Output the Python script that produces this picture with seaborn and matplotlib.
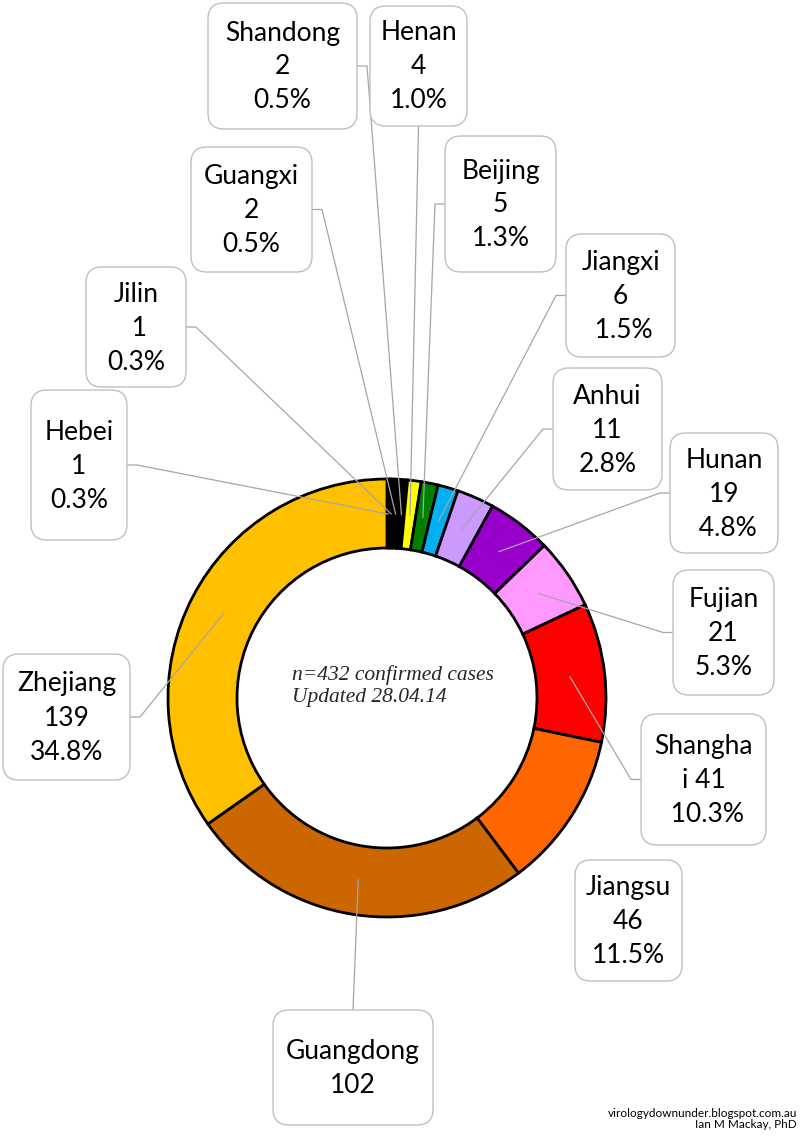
import numpy as np
import matplotlib
matplotlib.use('Agg')
import matplotlib.pyplot as plt
import seaborn as sns
from matplotlib.patches import FancyBboxPatch

# Dữ liệu: số ca theo tỉnh (thứ tự theo chiều kim đồng hồ từ đỉnh)
provinces = ['Hebei', 'Jilin', 'Guangxi', 'Shandong', 'Henan', 'Beijing', 'Jiangxi',
             'Anhui', 'Hunan', 'Fujian', 'Shanghai', 'Jiangsu', 'Guangdong', 'Zhejiang']
cases = [1, 1, 2, 2, 4, 5, 6, 11, 19, 21, 41, 46, 102, 139]
colors = ['#000000', '#000000', '#000000', '#000000', '#FFFF00', '#008000', '#00B0F0',
          '#CC99FF', '#9900CC', '#FF99FF', '#FF0000', '#FF6600', '#CC6600', '#FFC000']
label_texts = ['Hebei\n1\n0.3%', 'Jilin\n 1\n0.3%', 'Guangxi\n2\n0.5%', 'Shandong\n2\n0.5%',
               'Henan\n4\n1.0%', 'Beijing\n5\n1.3%', 'Jiangxi\n6\n 1.5%', 'Anhui\n11\n2.8%',
               'Hunan\n19\n 4.8%', 'Fujian\n21\n5.3%', 'Shangha\ni 41\n 10.3%',
               'Jiangsu\n46\n11.5%', 'Guangdong\n102', 'Zhejiang\n139\n34.8%']
center_note = 'n=432 confirmed cases\nUpdated 28.04.14'
credit = 'virologydownunder.blogspot.com.au\nIan M Mackay, PhD'

# Bố cục (toạ độ pixel, gốc ở góc trên trái)
W, H = 800, 1137
CX, CY, R_OUT, R_IN = 387, 698, 219, 150
boxes = {  # x0, y0, x1, y1
    'Hebei': (31, 390, 127, 540), 'Jilin': (86, 267, 186, 387),
    'Guangxi': (191, 147, 312, 272), 'Shandong': (208, 3, 357, 129),
    'Henan': (370, 6, 467, 126), 'Beijing': (445, 136, 556, 272),
    'Jiangxi': (566, 234, 675, 357), 'Anhui': (553, 368, 662, 490),
    'Hunan': (670, 433, 778, 553), 'Fujian': (673, 570, 774, 695),
    'Shanghai': (641, 714, 766, 845), 'Jiangsu': (575, 860, 682, 981),
    'Guangdong': (273, 1010, 433, 1125), 'Zhejiang': (3, 654, 130, 780),
}
# cạnh nối dây dẫn: 'r' phải, 'l' trái, 't' trên, 'b' dưới, None không có
leader_side = {'Hebei': 'r', 'Jilin': 'r', 'Guangxi': 'r', 'Shandong': 'r', 'Henan': 'b',
               'Beijing': 'l', 'Jiangxi': 'l', 'Anhui': 'l', 'Hunan': 'l', 'Fujian': 'l',
               'Shanghai': 'l', 'Jiangsu': None, 'Guangdong': 't', 'Zhejiang': 'r'}


def fy(y):
    return H - y


def main():
    sns.set_theme(style='white')
    plt.rcParams['font.family'] = ['Lato', 'DejaVu Sans']

    fig = plt.figure(figsize=(W / 100, H / 100), dpi=100)
    ax = fig.add_axes([0, 0, 1, 1])

    wedges, _ = ax.pie(cases, colors=colors, startangle=90, counterclock=False,
                       center=(CX, fy(CY)), radius=R_OUT,
                       wedgeprops=dict(width=R_OUT - R_IN, edgecolor='black', linewidth=2.0))

    total = sum(cases)
    for i, name in enumerate(provinces):
        x0, y0, x1, y1 = boxes[name]
        box = FancyBboxPatch((x0, fy(y1)), x1 - x0, y1 - y0,
                             boxstyle='round,pad=0,rounding_size=16',
                             facecolor='white', edgecolor='#BFBFBF', linewidth=1.0, zorder=3)
        ax.add_patch(box)
        ax.text((x0 + x1) / 2, fy((y0 + y1) / 2 + 1), label_texts[i], ha='center', va='center',
                fontsize=19, linespacing=1.45, color='black', zorder=4)

        side = leader_side[name]
        if side is None:
            continue
        # điểm neo trong lát bánh: góc giữa, bán kính 0.84
        mid = (sum(cases[:i]) + cases[i] / 2) / total * 360
        r = 0.84 * R_OUT
        ax_x = CX + r * np.sin(np.radians(mid))
        ax_y = CY - r * np.cos(np.radians(mid))
        ym = (y0 + y1) / 2
        xm = (x0 + x1) / 2
        if side == 'r':
            pts = [(x1, ym), (x1 + 10, ym), (ax_x, ax_y)]
        elif side == 'l':
            pts = [(x0, ym), (x0 - 10, ym), (ax_x, ax_y)]
        elif side == 'b':
            pts = [(xm, y1), (ax_x, ax_y)]
        else:
            pts = [(xm, y0), (ax_x, ax_y)]
        ax.plot([p[0] for p in pts], [fy(p[1]) for p in pts], color='#A6A6A6',
                linewidth=0.9, zorder=2)

    ax.text(292, fy(686), center_note, ha='left', va='center', fontsize=15.5,
            family=['Liberation Serif', 'DejaVu Serif'], style='italic', linespacing=1.15)
    ax.text(797, fy(1119), credit, ha='right', va='center', fontsize=8.5,
            linespacing=1.0, color='black')

    ax.set_xlim(0, W)
    ax.set_ylim(0, H)
    ax.set_aspect('equal')
    ax.axis('off')
    fig.savefig('out.png', dpi=100, facecolor='white')
    plt.close(fig)


if __name__ == "__main__":
    main()
